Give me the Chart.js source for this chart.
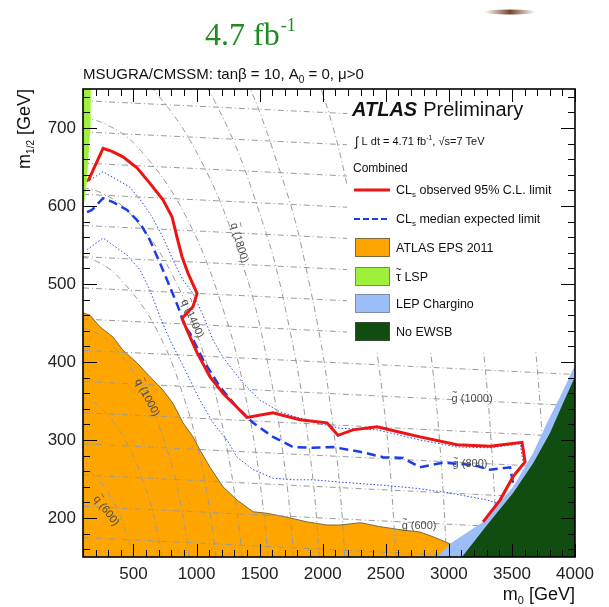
<!DOCTYPE html>
<html>
<head>
<meta charset="utf-8">
<script src="https://cdn.jsdelivr.net/npm/chart.js@4.4.1/dist/chart.umd.min.js"></script>
<style>
  html, body { margin: 0; padding: 0; background: #fff; }
  #wrap { width: 609px; height: 607px; }
</style>
</head>
<body>
<div id="wrap"><canvas id="c" width="609" height="607"></canvas></div>
<script>
// axis ticks
const m0Ticks = [500, 1000, 1500, 2000, 2500, 3000, 3500, 4000];
const m12Ticks = [200, 300, 400, 500, 600, 700];

// CLs observed 95% limit (red)
const obsM0 = [140, 259, 330, 417, 528, 631, 734, 806, 845, 885, 932, 1004, 972, 885, 924, 1004, 1107, 1210, 1321, 1400, 1606, 1820, 2034, 2121, 2240, 2431, 2613, 2771, 3065, 3326, 3580, 3604, 3509, 3406, 3271];
const obsM12 = [632, 674, 670, 663, 649, 629, 608, 586, 560, 535, 514, 488, 471, 456, 441, 412, 381, 360, 342, 329, 335, 326, 322, 306, 313, 317, 310, 304, 294, 292, 297, 272, 253, 223, 195];

// CLs median expected (blue dashed)
const expM0 = [132, 171, 259, 338, 449, 552, 631, 710, 790, 853, 909, 948, 1051, 1186, 1321, 1448, 1606, 1765, 1923, 2082, 2296, 2478, 2637, 2771, 2954, 3192, 3326, 3485, 3509];
const expM12 = [592, 595, 610, 605, 595, 578, 556, 527, 496, 471, 445, 437, 403, 368, 342, 322, 304, 291, 290, 291, 285, 278, 277, 265, 271, 268, 262, 265, 245];

// expected +/- 1 sigma (blue dotted)
const upM0 = [132, 259, 473, 568, 647, 734, 813, 893, 972, 1051, 1131, 1210, 1368, 1503, 1662, 1923, 2137, 2431, 2771, 3065, 3326, 3565, 3588];
const upM12 = [631, 644, 624, 605, 586, 560, 531, 505, 488, 460, 428, 406, 373, 351, 336, 323, 315, 313, 300, 291, 290, 295, 272];
const dnM0 = [132, 259, 449, 552, 631, 710, 790, 869, 948, 1027, 1131, 1241, 1321, 1448, 1606, 1765, 1923, 2137, 2478, 2748, 3009, 3303, 3382];
const dnM12 = [544, 559, 537, 518, 492, 458, 428, 403, 377, 351, 322, 300, 278, 262, 251, 249, 249, 246, 242, 238, 232, 223, 219];

// excluded / theory regions
const orangeM0 = [100, 155, 235, 338, 417, 528, 631, 734, 813, 893, 972, 1027, 1107, 1210, 1321, 1448, 1559, 1717, 1876, 2034, 2137, 2300, 2450, 2613, 2771, 2874, 3009, 2906, 100];
const orangeM12 = [463, 460, 445, 432, 415, 399, 381, 364, 347, 322, 304, 287, 265, 240, 223, 208, 206, 201, 195, 191, 191, 194, 189, 185, 182, 176, 167, 140, 140];
const lepM0 = [2906, 2906, 3009, 3271, 3509, 3667, 3778, 3881, 4000, 4050, 4050];
const lepM12 = [140, 150, 167, 195, 240, 283, 322, 355, 396, 396, 140];
const ewsbM0 = [3104, 3104, 3303, 3509, 3667, 3802, 3905, 4000, 4050, 4050];
const ewsbM12 = [140, 150, 191, 232, 270, 309, 347, 381, 381, 140];
const lspM0 = [100, 162, 160, 150, 140, 130, 110, 100];
const lspM12 = [760, 760, 700, 680, 655, 630, 605, 595];

// gluino iso-mass lines
const gluinoMasses = [500, 600, 700, 800, 900, 1000, 1100, 1200, 1300, 1400, 1500, 1600, 1700, 1800, 1900];
const gluinoM0 = [100, 1000, 2000, 3000, 4000];
const gluinoM12 = [
  [175, 168, 160, 152, 144], [215, 208, 200, 192, 184], [255, 248, 240, 232, 224],
  [295, 288, 280, 272, 264], [335, 328, 320, 312, 304], [375, 368, 360, 352, 344],
  [415, 408, 400, 392, 384], [455, 448, 440, 432, 424], [495, 488, 480, 472, 464],
  [535, 528, 520, 512, 504], [575, 568, 560, 552, 544], [615, 608, 600, 592, 584],
  [655, 648, 640, 632, 624], [695, 688, 680, 672, 664], [735, 728, 720, 712, 704]
];

// squark iso-mass lines
const squarkMasses = [600, 800, 1000, 1200, 1400, 1600, 1800, 2000, 2200, 2600, 3000, 3400, 3800];
const squarkM0 = [
  [600, 591, 564, 520, 460, 344, 205, 104, 0],
  [800, 788, 752, 693, 613, 459, 274, 139, 0],
  [1000, 985, 940, 866, 766, 574, 342, 174, 0],
  [1200, 1182, 1128, 1039, 919, 689, 410, 209, 0],
  [1400, 1379, 1316, 1212, 1072, 804, 479, 244, 0],
  [1600, 1576, 1504, 1386, 1226, 918, 547, 278, 0],
  [1800, 1773, 1692, 1559, 1379, 1033, 616, 313, 0],
  [2000, 1970, 1880, 1732, 1532, 1148, 684, 348, 0],
  [2200, 2167, 2068, 1905, 1685, 1263, 752, 382, 0],
  [2600, 2561, 2443, 2252, 1992, 1491],
  [3000, 2955, 2819, 2598, 2298],
  [3400, 3349, 3195, 2944, 2604],
  [3800, 3743, 3571, 3291, 2911]
];
const squarkM12 = [
  [0, 47, 92, 134, 173, 220, 252, 264, 268],
  [0, 62, 122, 179, 230, 293, 336, 352, 358],
  [0, 78, 153, 224, 288, 366, 420, 440, 447],
  [0, 93, 184, 268, 345, 440, 504, 529, 537],
  [0, 109, 214, 313, 403, 513, 589, 617, 626],
  [0, 124, 245, 358, 460, 586, 673, 705, 716],
  [0, 140, 275, 403, 518, 659, 757, 793, 805],
  [0, 156, 306, 447, 575, 733, 841, 881, 894],
  [0, 171, 336, 492, 633, 806, 925, 969, 984],
  [0, 202, 398, 581, 748, 952],
  [0, 233, 459, 671, 863],
  [0, 265, 520, 760, 978],
  [0, 296, 581, 850, 1093]
];

// contour label texts and where they sit
const contourLabels = [
  { base: 'q', rest: ' (600)', m0: 290, m12: 210, angle: 52 },
  { base: 'q', rest: ' (1000)', m0: 615, m12: 355, angle: 62 },
  { base: 'q', rest: ' (1400)', m0: 972, m12: 456, angle: 66 },
  { base: 'q', rest: ' (1800)', m0: 1345, m12: 553, angle: 74 },
  { base: 'g', rest: ' (600)', m0: 2764, m12: 191, angle: 0 },
  { base: 'g', rest: ' (800)', m0: 3168, m12: 270, angle: 0 },
  { base: 'g', rest: ' (1000)', m0: 3184, m12: 354, angle: 0 }
];

const FONT = '"Liberation Sans", Arial, sans-serif';
const pts = (xs, ys) => xs.map((x, i) => ({ x, y: ys[i] }));

const region = (xs, ys, color, order, border) => ({
  data: pts(xs, ys), showLine: true, fill: 'shape', tension: 0,
  backgroundColor: color, borderColor: border || color, borderWidth: border ? 1 : 0,
  pointRadius: 0, order
});
const contour = (data, tension) => ({
  data, showLine: true, fill: false, tension,
  borderColor: '#9a9a9a', borderWidth: 1, borderDash: [6, 3, 1, 3],
  pointRadius: 0, order: 20
});

const datasets = [
  region(orangeM0, orangeM12, '#ffa500', 30, '#7d6a3a'),
  ...gluinoM12.map(row => contour(pts(gluinoM0, row), 0)),
  ...squarkM0.map((row, i) => contour(pts(row, squarkM12[i]), 0.4)),
  region(lepM0, lepM12, '#9dbdf6', 15),
  region(ewsbM0, ewsbM12, '#114d10', 14),
  region(lspM0, lspM12, '#9ef03a', 14),
  { data: pts(upM0, upM12), showLine: true, borderColor: '#2a4cf0', borderWidth: 1, borderDash: [1.5, 2], pointRadius: 0, order: 5 },
  { data: pts(dnM0, dnM12), showLine: true, borderColor: '#2a4cf0', borderWidth: 1, borderDash: [1.5, 2], pointRadius: 0, order: 5 },
  { data: pts(expM0, expM12), showLine: true, borderColor: '#1c3de6', borderWidth: 2.5, borderDash: [9, 5], pointRadius: 0, order: 4 },
  { data: pts(obsM0, obsM12), showLine: true, borderColor: '#ee1414', borderWidth: 3, pointRadius: 0, order: 3 }
];

// draw a run of [text, fontSize, dy, style] pieces, returns end x
function drawRun(ctx, x, y, parts) {
  parts.forEach(([t, size, dy, style]) => {
    ctx.font = (style || '') + ' ' + size + 'px ' + FONT;
    ctx.fillText(t, x, y + (dy || 0));
    x += ctx.measureText(t).width;
  });
  return x;
}
function runWidth(ctx, parts) {
  let w = 0;
  parts.forEach(([t, size, dy, style]) => {
    ctx.font = (style || '') + ' ' + size + 'px ' + FONT;
    w += ctx.measureText(t).width;
  });
  return w;
}
// letter with a small tilde above it, then the rest of the text
function drawTilde(ctx, x, y, base, rest, size) {
  ctx.font = size + 'px ' + FONT;
  const bw = ctx.measureText(base).width;
  ctx.fillText(base, x, y);
  ctx.font = (size * 0.8) + 'px ' + FONT;
  const tw = ctx.measureText('~').width;
  ctx.fillText('~', x + (bw - tw) / 2, y - size * 0.62);
  ctx.font = size + 'px ' + FONT;
  ctx.fillText(rest, x + bw, y);
  return x + bw + ctx.measureText(rest).width;
}

const decor = {
  id: 'decor',
  beforeDraw(chart) {
    const ctx = chart.ctx;
    ctx.save();
    ctx.fillStyle = '#fff';
    ctx.fillRect(0, 0, chart.width, chart.height);
    ctx.restore();
  },
  afterDatasetsDraw(chart) {
    const ctx = chart.ctx;
    const xs = chart.scales.x, ys = chart.scales.y;
    const { left, right, top, bottom } = chart.chartArea;
    ctx.save();

    // contour labels
    ctx.fillStyle = '#4a4a4a';
    ctx.textAlign = 'left';
    ctx.textBaseline = 'alphabetic';
    contourLabels.forEach(l => {
      ctx.save();
      ctx.translate(xs.getPixelForValue(l.m0), ys.getPixelForValue(l.m12));
      ctx.rotate(l.angle * Math.PI / 180);
      ctx.font = '11px ' + FONT;
      const w = ctx.measureText(l.base + l.rest).width;
      drawTilde(ctx, -w / 2, 4, l.base, l.rest, 11);
      ctx.restore();
    });

    // legend panel
    ctx.fillStyle = '#fff';
    ctx.fillRect(347, top, right - 347, 261);
    ctx.fillStyle = '#111';
    const ex = drawRun(ctx, 352, 116, [['ATLAS', 20, 0, 'italic bold']]);
    drawRun(ctx, ex + 6, 116, [['Preliminary', 20, 0, '']]);
    drawRun(ctx, 355, 145, [['\u222B', 13, 1], [' L dt = 4.71 fb', 11], ['-1', 7, -5], [', \u221As=7 TeV', 11]]);
    drawRun(ctx, 353, 172, [['Combined', 12]]);

    ctx.lineWidth = 3;
    ctx.strokeStyle = '#ee1414';
    ctx.beginPath(); ctx.moveTo(354, 190); ctx.lineTo(390, 190); ctx.stroke();
    ctx.lineWidth = 2;
    ctx.strokeStyle = '#1c3de6';
    ctx.setLineDash([6, 3]);
    ctx.beginPath(); ctx.moveTo(354, 219); ctx.lineTo(390, 219); ctx.stroke();
    ctx.setLineDash([]);
    drawRun(ctx, 396, 194, [['CL', 12.5], ['s', 8, 3], [' observed 95% C.L. limit', 12.5]]);
    drawRun(ctx, 396, 223, [['CL', 12.5], ['s', 8, 3], [' median expected limit', 12.5]]);

    const boxes = [
      ['#ffa500', '#7d6a3a', 238, '', 'ATLAS EPS 2011'],
      ['#9ef03a', '#6f8f5f', 267, '\u03C4', ' LSP'],
      ['#9dbdf6', '#7f8fa8', 294, '', 'LEP Chargino'],
      ['#114d10', '#3a4a3a', 322, '', 'No EWSB']
    ];
    ctx.lineWidth = 1;
    boxes.forEach(([fill, edge, y, base, label]) => {
      ctx.fillStyle = fill;
      ctx.fillRect(355, y, 35, 19);
      ctx.strokeStyle = edge;
      ctx.strokeRect(355.5, y + 0.5, 34, 18);
      ctx.fillStyle = '#111';
      if (base) drawTilde(ctx, 396, y + 14, base, label, 12.5);
      else drawRun(ctx, 396, y + 14, [[label, 12.5]]);
    });

    // ticks (ROOT style, inside, mirrored)
    ctx.strokeStyle = '#000';
    ctx.lineWidth = 1;
    ctx.beginPath();
    for (let v = 100; v <= 4000; v += 100) {
      const px = Math.round(xs.getPixelForValue(v)) + 0.5;
      const len = v % 500 === 0 ? 13 : 7;
      ctx.moveTo(px, bottom); ctx.lineTo(px, bottom - len);
      ctx.moveTo(px, top); ctx.lineTo(px, top + len);
    }
    for (let v = 160; v <= 740; v += 20) {
      const py = Math.round(ys.getPixelForValue(v)) + 0.5;
      const len = v % 100 === 0 ? 14 : 7;
      ctx.moveTo(left, py); ctx.lineTo(left + len, py);
      ctx.moveTo(right, py); ctx.lineTo(right - len, py);
    }
    ctx.stroke();
    ctx.lineWidth = 1.6;
    ctx.strokeRect(left, top, right - left, bottom - top);
    ctx.restore();
  },
  afterDraw(chart) {
    const ctx = chart.ctx;
    ctx.save();
    ctx.textBaseline = 'alphabetic';
    // big luminosity title
    ctx.fillStyle = '#1f8a1f';
    ctx.font = '32px "Liberation Serif", "Times New Roman", serif';
    ctx.fillText('4.7 fb', 205, 45);
    const w = ctx.measureText('4.7 fb').width;
    ctx.font = '18px "Liberation Serif", "Times New Roman", serif';
    ctx.fillText('-1', 205 + w + 1, 31);

    // model line
    ctx.fillStyle = '#111';
    drawRun(ctx, 83, 79, [['MSUGRA/CMSSM: tan\u03B2 = 10, A', 15], ['0', 10, 4], [' = 0, \u03BC>0', 15]]);

    // x title
    const xt = [['m', 18], ['0', 11, 4], [' [GeV]', 18]];
    drawRun(ctx, 575 - runWidth(ctx, xt), 600, xt);

    // y title
    const yt = [['m', 18], ['1/2', 10, 4], [' [GeV]', 18]];
    ctx.translate(30, 89);
    ctx.rotate(-Math.PI / 2);
    drawRun(ctx, -runWidth(ctx, yt), 0, yt);
    ctx.restore();

    // brown mark top right
    ctx.save();
    const g = ctx.createLinearGradient(484, 0, 536, 0);
    g.addColorStop(0, 'rgba(120,70,40,0)');
    g.addColorStop(0.5, 'rgba(110,60,35,0.95)');
    g.addColorStop(1, 'rgba(120,70,40,0)');
    ctx.fillStyle = g;
    ctx.beginPath();
    ctx.ellipse(510, 12, 26, 2.5, 0, 0, Math.PI * 2);
    ctx.fill();
    ctx.restore();
  }
};

const tickFont = { family: FONT, size: 17 };

new Chart(document.getElementById('c'), {
  type: 'scatter',
  data: { datasets },
  options: {
    responsive: false,
    animation: false,
    layout: { padding: { top: 89, right: 34, left: 0, bottom: 0 } },
    plugins: { legend: { display: false }, tooltip: { enabled: false } },
    scales: {
      x: {
        type: 'linear', min: 100, max: 4000,
        afterBuildTicks: s => { s.ticks = m0Ticks.map(v => ({ value: v })); },
        afterFit: s => { s.height = 50; },
        grid: { display: false, drawTicks: false },
        border: { display: false },
        ticks: { font: tickFont, color: '#222', padding: 7, maxRotation: 0, autoSkip: false, callback: v => String(v) }
      },
      y: {
        type: 'linear', min: 150, max: 750,
        afterBuildTicks: s => { s.ticks = m12Ticks.map(v => ({ value: v })); },
        afterFit: s => { s.width = 83; },
        grid: { display: false, drawTicks: false },
        border: { display: false },
        ticks: { font: tickFont, color: '#222', padding: 7, autoSkip: false, callback: v => String(v) }
      }
    }
  },
  plugins: [decor]
});
</script>
</body>
</html>
